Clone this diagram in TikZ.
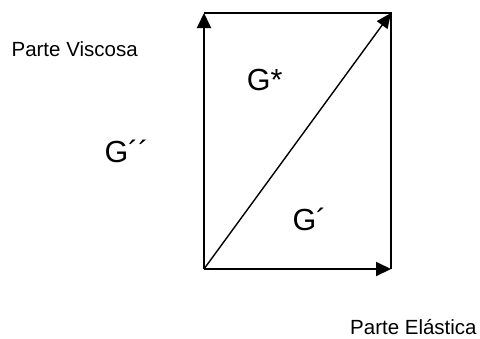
\documentclass[tikz,border=0pt]{standalone}
\usepackage{fontspec}
\setmainfont{Liberation Sans}
\usetikzlibrary{arrows.meta}
\begin{document}
\begin{tikzpicture}[x=1pt,y=-1pt,
  edge/.style={line width=2pt},
  vec/.style={line width=2pt,-{Triangle[length=15pt,width=14pt]}},
  diag/.style={line width=1.4pt,-{Triangle[length=15pt,width=13pt]}},
  lab/.style={inner sep=0pt,anchor=base west,font=\fontsize{20.5}{24}\selectfont},
  glab/.style={inner sep=0pt,anchor=base west,font=\fontsize{30.5}{36}\selectfont}]
\useasboundingbox (0,0) rectangle (480,338);
\coordinate (O) at (204,269);
\coordinate (TL) at (204,13);
\coordinate (TR) at (391,13);
\coordinate (BR) at (391,269);
\draw[edge] (TL) -- (TR) -- (BR);
\draw[vec] (O) -- (TL);
\draw[vec] (O) -- (BR);
\draw[diag] (O) -- (TR);
\node[lab] (visc) at (11.4,56.7) {Parte Viscosa};
\node[lab] (elas) at (350,334.5) {Parte Elástica};
\node[glab] (gpp) at (104.3,162.3) {G´´};
\node[glab] (gs) at (246.6,90.6) {G*};
\node[glab] (gp) at (292.3,230.8) {G´};
\end{tikzpicture}
\end{document}
